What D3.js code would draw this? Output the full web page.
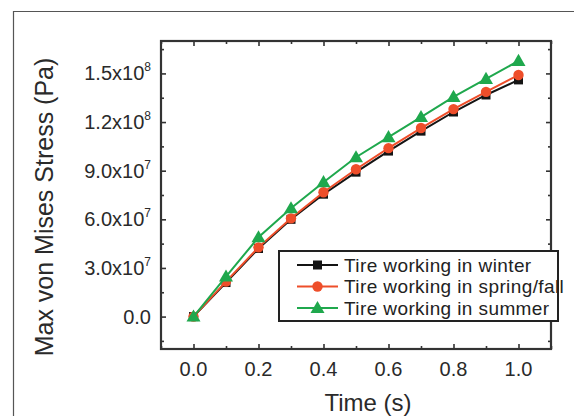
<!DOCTYPE html>
<html>
<head>
<meta charset="utf-8">
<script src="https://cdn.jsdelivr.net/npm/d3@7"></script>
<style>
  body { margin: 0; background: #fff; }
  svg { display: block; font-family: "Liberation Sans", Arial, sans-serif; }
</style>
</head>
<body>
<svg id="chart" width="574" height="416"></svg>
<script>
const times = [0, 0.1, 0.2, 0.3, 0.4, 0.5, 0.6, 0.7, 0.8, 0.9, 1.0];
const winter = [0, 2.1e7, 4.2e7, 6.0e7, 7.55e7, 8.91e7, 1.021e8, 1.144e8, 1.262e8, 1.367e8, 1.46e8];
const springFall = [0, 2.16e7, 4.27e7, 6.06e7, 7.67e7, 9.09e7, 1.039e8, 1.163e8, 1.28e8, 1.386e8, 1.49e8];
const summer = [0, 2.47e7, 4.89e7, 6.68e7, 8.29e7, 9.83e7, 1.107e8, 1.231e8, 1.355e8, 1.466e8, 1.577e8];

const xTicks = [0, 0.2, 0.4, 0.6, 0.8, 1.0];
const xMinor = [-0.1, 0.1, 0.3, 0.5, 0.7, 0.9, 1.1];
const yTicks = [0, 3e7, 6e7, 9e7, 1.2e8, 1.5e8];
const yMinor = [-1.5e7, 1.5e7, 4.5e7, 7.5e7, 1.05e8, 1.35e8, 1.65e8];
const yTickMantissa = ["0.0", "3.0", "6.0", "9.0", "1.2", "1.5"];
const yTickExp = [null, "7", "7", "7", "8", "8"];

const series = [
  { name: "Tire working in winter", values: winter, color: "#141414", shape: "square" },
  { name: "Tire working in spring/fall", values: springFall, color: "#ee4e2a", shape: "circle" },
  { name: "Tire working in summer", values: summer, color: "#1fa84d", shape: "triangle" }
];

const svg = d3.select("#chart");

// outer frame (only left and top edges are visible)
svg.append("path")
  .attr("d", "M13.5,420V11.5H574")
  .attr("fill", "none")
  .attr("stroke", "#555")
  .attr("stroke-width", 1.2);

const plotL = 161, plotR = 551, plotT = 41, plotB = 349;

const x = d3.scaleLinear().domain([-0.1, 1.1]).range([plotL, plotR]);
const y = d3.scaleLinear().domain([-2e7, 1.7e8]).range([plotB, plotT]);

const axisColor = "#333";

function styleAxis(g) {
  g.select(".domain").remove();
  g.selectAll("line").attr("stroke", axisColor).attr("stroke-width", 1.6);
}

// ticks inward on all four sides
svg.append("g").attr("transform", `translate(0,${plotB})`)
  .call(d3.axisTop(x).tickValues(xTicks).tickSize(5).tickFormat(""))
  .call(styleAxis);
svg.append("g").attr("transform", `translate(0,${plotB})`)
  .call(d3.axisTop(x).tickValues(xMinor).tickSize(3).tickFormat(""))
  .call(styleAxis);
svg.append("g").attr("transform", `translate(0,${plotT})`)
  .call(d3.axisBottom(x).tickValues(xTicks).tickSize(5).tickFormat(""))
  .call(styleAxis);
svg.append("g").attr("transform", `translate(0,${plotT})`)
  .call(d3.axisBottom(x).tickValues(xMinor).tickSize(3).tickFormat(""))
  .call(styleAxis);
svg.append("g").attr("transform", `translate(${plotL},0)`)
  .call(d3.axisRight(y).tickValues(yTicks).tickSize(5).tickFormat(""))
  .call(styleAxis);
svg.append("g").attr("transform", `translate(${plotL},0)`)
  .call(d3.axisRight(y).tickValues(yMinor).tickSize(3).tickFormat(""))
  .call(styleAxis);
svg.append("g").attr("transform", `translate(${plotR},0)`)
  .call(d3.axisLeft(y).tickValues(yTicks).tickSize(5).tickFormat(""))
  .call(styleAxis);
svg.append("g").attr("transform", `translate(${plotR},0)`)
  .call(d3.axisLeft(y).tickValues(yMinor).tickSize(3).tickFormat(""))
  .call(styleAxis);

// plot frame
svg.append("rect")
  .attr("x", plotL).attr("y", plotT)
  .attr("width", plotR - plotL).attr("height", plotB - plotT)
  .attr("fill", "none")
  .attr("stroke", axisColor)
  .attr("stroke-width", 2.2);

// x tick labels
svg.append("g").selectAll("text")
  .data(xTicks)
  .join("text")
  .attr("x", d => x(d))
  .attr("y", 376)
  .attr("text-anchor", "middle")
  .attr("font-size", 20)
  .attr("fill", "#2a2a2a")
  .text(d => d.toFixed(1));

// y tick labels with superscript exponent
const yLab = svg.append("g").selectAll("text")
  .data(yTicks)
  .join("text")
  .attr("x", 151)
  .attr("y", d => y(d) + 7)
  .attr("text-anchor", "end")
  .attr("font-size", 20)
  .attr("fill", "#2a2a2a");
yLab.each(function (d, i) {
  const t = d3.select(this);
  if (yTickExp[i] == null) {
    t.text(yTickMantissa[i]);
  } else {
    t.append("tspan").text(yTickMantissa[i] + "x10");
    t.append("tspan").attr("font-size", 12).attr("dy", -9).text(yTickExp[i]);
  }
});

// axis titles
svg.append("text")
  .attr("x", 368)
  .attr("y", 411)
  .attr("text-anchor", "middle")
  .attr("font-size", 24)
  .attr("fill", "#2a2a2a")
  .text("Time (s)");

svg.append("text")
  .attr("transform", "translate(53,207) rotate(-90)")
  .attr("text-anchor", "middle")
  .attr("font-size", 25)
  .attr("fill", "#2a2a2a")
  .text("Max von Mises Stress (Pa)");

// series lines and markers
const line = d3.line()
  .x((d, i) => x(times[i]))
  .y(d => y(d));

function drawMarker(g, shape, color, cx, cy) {
  if (shape === "square") {
    g.append("rect").attr("x", cx - 4.5).attr("y", cy - 4.5)
      .attr("width", 9).attr("height", 9).attr("fill", color);
  } else if (shape === "circle") {
    g.append("circle").attr("cx", cx).attr("cy", cy).attr("r", 5.2).attr("fill", color);
  } else {
    g.append("path")
      .attr("d", d3.symbol(d3.symbolTriangle, 85)())
      .attr("transform", `translate(${cx},${cy + 1})`)
      .attr("fill", color);
  }
}

series.forEach(s => {
  const g = svg.append("g");
  g.append("path")
    .datum(s.values)
    .attr("d", line)
    .attr("fill", "none")
    .attr("stroke", s.color)
    .attr("stroke-width", 2);
  s.values.forEach((v, i) => drawMarker(g, s.shape, s.color, x(times[i]), y(v)));
});

// legend
const legend = svg.append("g");
legend.append("rect")
  .attr("x", 279).attr("y", 251)
  .attr("width", 279).attr("height", 70)
  .attr("fill", "#fff")
  .attr("stroke", "#222")
  .attr("stroke-width", 2);

series.forEach((s, i) => {
  const cy = 265 + i * 21.5;
  legend.append("line")
    .attr("x1", 297).attr("x2", 338)
    .attr("y1", cy).attr("y2", cy)
    .attr("stroke", s.color).attr("stroke-width", 2);
  drawMarker(legend, s.shape, s.color, 317.5, cy);
  legend.append("text")
    .attr("x", 344)
    .attr("y", cy + 6.5)
    .attr("font-size", 19)
    .attr("letter-spacing", 0.4)
    .attr("fill", "#222")
    .text(s.name);
});
</script>
</body>
</html>
